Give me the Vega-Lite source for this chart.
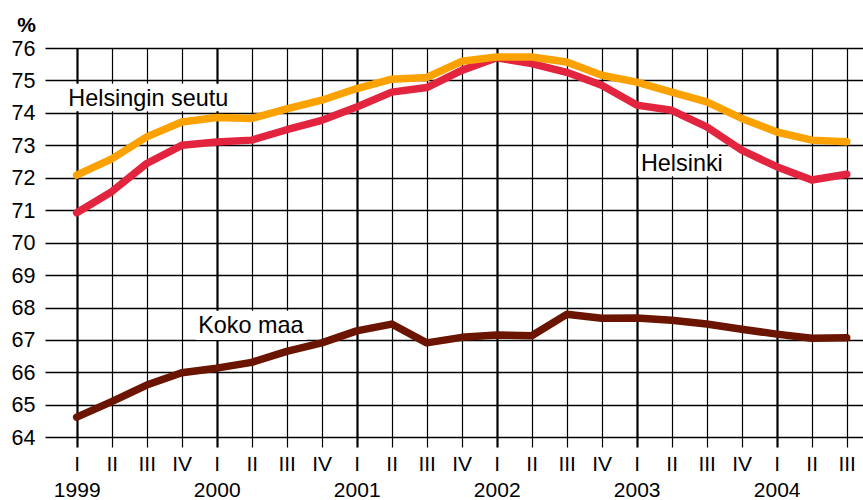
{
  "$schema": "https://vega.github.io/schema/vega-lite/v6.json",
  "width": 818,
  "height": 399,
  "autosize": {"type": "none"},
  "padding": {"left": 45, "top": 48, "right": 0, "bottom": 53},
  "background": "white",
  "config": {
    "view": {"stroke": null},
    "font": "Liberation Sans",
    "axis": {"labelFont": "Liberation Sans", "labelColor": "black", "labelFontSize": 21, "domain": false, "ticks": false}
  },
  "resolve": {"axis": {"x": "independent", "y": "independent"}},
  "datasets": {
    "series": [
      {"q": 0, "s": "Koko maa", "v": 64.62}, {"q": 1, "s": "Koko maa", "v": 65.10}, {"q": 2, "s": "Koko maa", "v": 65.61}, {"q": 3, "s": "Koko maa", "v": 65.99},
      {"q": 4, "s": "Koko maa", "v": 66.13}, {"q": 5, "s": "Koko maa", "v": 66.31}, {"q": 6, "s": "Koko maa", "v": 66.65}, {"q": 7, "s": "Koko maa", "v": 66.91},
      {"q": 8, "s": "Koko maa", "v": 67.28}, {"q": 9, "s": "Koko maa", "v": 67.49}, {"q": 10, "s": "Koko maa", "v": 66.91}, {"q": 11, "s": "Koko maa", "v": 67.08},
      {"q": 12, "s": "Koko maa", "v": 67.15}, {"q": 13, "s": "Koko maa", "v": 67.13}, {"q": 14, "s": "Koko maa", "v": 67.79}, {"q": 15, "s": "Koko maa", "v": 67.67},
      {"q": 16, "s": "Koko maa", "v": 67.68}, {"q": 17, "s": "Koko maa", "v": 67.61}, {"q": 18, "s": "Koko maa", "v": 67.49}, {"q": 19, "s": "Koko maa", "v": 67.33},
      {"q": 20, "s": "Koko maa", "v": 67.18}, {"q": 21, "s": "Koko maa", "v": 67.05}, {"q": 22, "s": "Koko maa", "v": 67.07},
      {"q": 0, "s": "Helsinki", "v": 70.92}, {"q": 1, "s": "Helsinki", "v": 71.57}, {"q": 2, "s": "Helsinki", "v": 72.44}, {"q": 3, "s": "Helsinki", "v": 73.0},
      {"q": 4, "s": "Helsinki", "v": 73.1}, {"q": 5, "s": "Helsinki", "v": 73.16}, {"q": 6, "s": "Helsinki", "v": 73.48}, {"q": 7, "s": "Helsinki", "v": 73.77},
      {"q": 8, "s": "Helsinki", "v": 74.18}, {"q": 9, "s": "Helsinki", "v": 74.64}, {"q": 10, "s": "Helsinki", "v": 74.78}, {"q": 11, "s": "Helsinki", "v": 75.31},
      {"q": 12, "s": "Helsinki", "v": 75.70}, {"q": 13, "s": "Helsinki", "v": 75.52}, {"q": 14, "s": "Helsinki", "v": 75.25}, {"q": 15, "s": "Helsinki", "v": 74.85},
      {"q": 16, "s": "Helsinki", "v": 74.24}, {"q": 17, "s": "Helsinki", "v": 74.08}, {"q": 18, "s": "Helsinki", "v": 73.57}, {"q": 19, "s": "Helsinki", "v": 72.85},
      {"q": 20, "s": "Helsinki", "v": 72.34}, {"q": 21, "s": "Helsinki", "v": 71.93}, {"q": 22, "s": "Helsinki", "v": 72.11},
      {"q": 0, "s": "Helsingin seutu", "v": 72.08}, {"q": 1, "s": "Helsingin seutu", "v": 72.58}, {"q": 2, "s": "Helsingin seutu", "v": 73.26}, {"q": 3, "s": "Helsingin seutu", "v": 73.72},
      {"q": 4, "s": "Helsingin seutu", "v": 73.86}, {"q": 5, "s": "Helsingin seutu", "v": 73.83}, {"q": 6, "s": "Helsingin seutu", "v": 74.12}, {"q": 7, "s": "Helsingin seutu", "v": 74.39},
      {"q": 8, "s": "Helsingin seutu", "v": 74.75}, {"q": 9, "s": "Helsingin seutu", "v": 75.04}, {"q": 10, "s": "Helsingin seutu", "v": 75.09}, {"q": 11, "s": "Helsingin seutu", "v": 75.59},
      {"q": 12, "s": "Helsingin seutu", "v": 75.72}, {"q": 13, "s": "Helsingin seutu", "v": 75.72}, {"q": 14, "s": "Helsingin seutu", "v": 75.57}, {"q": 15, "s": "Helsingin seutu", "v": 75.16},
      {"q": 16, "s": "Helsingin seutu", "v": 74.95}, {"q": 17, "s": "Helsingin seutu", "v": 74.64}, {"q": 18, "s": "Helsingin seutu", "v": 74.34}, {"q": 19, "s": "Helsingin seutu", "v": 73.83},
      {"q": 20, "s": "Helsingin seutu", "v": 73.41}, {"q": 21, "s": "Helsingin seutu", "v": 73.16}, {"q": 22, "s": "Helsingin seutu", "v": 73.11}
    ],
    "labels": [
      {"label": "Helsingin seutu", "q": -0.24, "v": 74.21, "q1": -0.3, "q2": 4.47, "v1": 74.05, "v2": 74.9},
      {"label": "Helsinki", "q": 16.12, "v": 72.21, "q1": 16.04, "q2": 18.55, "v1": 72.05, "v2": 72.92},
      {"label": "Koko maa", "q": 3.47, "v": 67.2, "q1": 3.4, "q2": 6.57, "v1": 67.0, "v2": 67.9}
    ]
  },
  "layer": [
    {
      "data": {"name": "series"},
      "mark": {"type": "line", "strokeWidth": 7.5, "strokeCap": "round", "strokeJoin": "round"},
      "encoding": {
        "x": {
          "field": "q", "type": "quantitative",
          "scale": {"domain": [-0.906, 22.466], "nice": false, "zero": false},
          "axis": {
            "title": null,
            "values": [0,1,2,3,4,5,6,7,8,9,10,11,12,13,14,15,16,17,18,19,20,21,22],
            "labelExpr": "[['I','II','III','IV'][datum.value % 4], datum.value % 4 === 0 ? ['1999','2000','2001','2002','2003','2004'][datum.value / 4] : '']",
            "labelPadding": 6,
            "labelLineHeight": 26,
            "labelBaseline": "top",
            "labelOverlap": false,
            "labelFlush": false,
            "labelBound": false,
            "grid": true,
            "gridColor": "black",
            "gridOpacity": 1,
            "gridWidth": {"condition": {"test": "datum.value % 4 === 0", "value": 2.2}, "value": 1.2}
          }
        },
        "y": {
          "field": "v", "type": "quantitative",
          "scale": {"domain": [63.7, 76], "nice": false, "zero": false},
          "axis": {
            "values": [64,65,66,67,68,69,70,71,72,73,74,75,76],
            "title": "%",
            "titleAngle": 0,
            "titleFontSize": 21,
            "titleFontWeight": "bold",
            "titleFont": "Liberation Sans",
            "titleAlign": "center",
            "titleBaseline": "alphabetic",
            "titleX": -19,
            "titleY": -17,
            "labelPadding": 10,
            "labelOffset": 1,
            "labelFontSize": 21.5,
            "grid": true,
            "gridColor": "black",
            "gridOpacity": 1,
            "gridWidth": 1.3
          }
        },
        "color": {
          "field": "s", "type": "nominal",
          "scale": {"domain": ["Koko maa", "Helsinki", "Helsingin seutu"], "range": ["#6B1400", "#E2243F", "#FBA200"]},
          "legend": null
        }
      }
    },
    {
      "data": {"name": "labels"},
      "mark": {"type": "rect", "fill": "white", "stroke": null},
      "encoding": {
        "x": {"field": "q1", "type": "quantitative", "axis": null},
        "x2": {"field": "q2"},
        "y": {"field": "v1", "type": "quantitative", "axis": null},
        "y2": {"field": "v2"}
      }
    },
    {
      "data": {"name": "labels"},
      "mark": {"type": "text", "align": "left", "baseline": "alphabetic", "fontSize": 23.4, "font": "Liberation Sans", "color": "black"},
      "encoding": {
        "x": {"field": "q", "type": "quantitative", "axis": null},
        "y": {"field": "v", "type": "quantitative", "axis": null},
        "text": {"field": "label"}
      }
    }
  ]
}
